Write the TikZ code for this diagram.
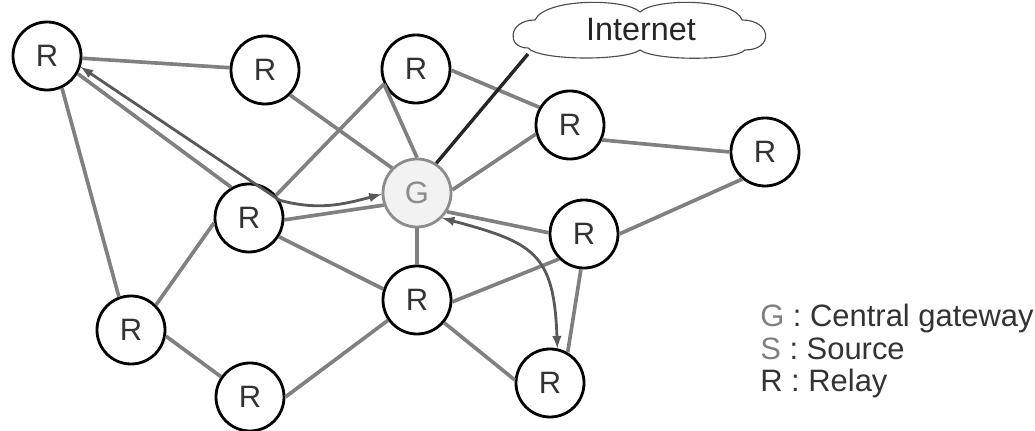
\documentclass[tikz,border=0pt]{standalone}
\usepackage{fontspec}
\setmainfont{Liberation Sans}

\begin{document}
\begin{tikzpicture}[x=0.025cm, y=0.025cm,
        relay/.style={circle, draw=black, line width=2pt, fill=white, minimum size=1.7cm, inner sep=0pt, text=black!80, font=\fontsize{22}{24}\selectfont},
        gateway/.style={relay, draw=gray!90, fill=gray!10, text=gray!90},
        link/.style={draw=gray, line width=2.6pt},
        route/.style={draw=black!65, line width=2pt, latex-latex},
        keytext/.style={anchor=base west, inner sep=0pt, text=black!80, font=\fontsize{22}{24}\selectfont}]
        \useasboundingbox (0,0) rectangle (1035,431);
        \draw[black!70, line width=0.8pt, fill=white] (528,383) .. controls (506,383) and (508,411) .. (535,411)
            .. controls (545,433) and (625,433) .. (640,419)
            .. controls (655,433) and (735,433) .. (742,411)
            .. controls (772,411) and (774,381) .. (745,381)
            .. controls (735,370) and (655,370) .. (640,381)
            .. controls (625,370) and (540,370) .. (528,383) -- cycle;
        \node[text=black!85, font=\fontsize{23}{25}\selectfont] (net) at (641,401) {Internet};
        \coordinate (netfoot) at (528,377);
        \node[relay] (r1) at (47,375) {R};
        \node[relay] (r2) at (265,361) {R};
        \node[relay] (r3) at (416,362) {R};
        \node[relay] (r4) at (570,306) {R};
        \node[relay] (r5) at (765,279) {R};
        \node[gateway] (g) at (417,238) {G};
        \node[relay] (r6) at (249,213) {R};
        \node[relay] (r7) at (584,197) {R};
        \node[relay] (r8) at (131,101) {R};
        \node[relay] (r9) at (417,131) {R};
        \node[relay] (r10) at (250,34) {R};
        \node[relay] (r11) at (550,48) {R};
        \draw[link] (r1) -- (r2);
        \draw[link] (r1.-30) -- (r6.120);
        \draw[link] (r1.-65) -- (r8.110);
        \draw[link] (r2.-45) -- (g.135);
        \draw[link] (r6.40) -- (r3.205);
        \draw[link] (r3.205) -- (g.90);
        \draw[link] (r3.-2) -- (r4.150);
        \draw[link] (r4.195) -- (g.5);
        \draw[link] (r4.-25) -- (r5.180);
        \draw[link] (r5.-130) -- (r7.0);
        \draw[link] (r6.-3) -- (g.200);
        \draw[link] (r6.188) -- (r8.45);
        \draw[link] (r6.-32) -- (r9.162);
        \draw[link] (g) -- (r9);
        \draw[link] (g.-32) -- (r7.178);
        \draw[link] (r7.225) -- (r9.-3);
        \draw[link] (r7.-95) -- (r11.60);
        \draw[link] (r8.-10) -- (r10.145);
        \draw[link] (r9.215) -- (r10.0);
        \draw[link] (r9.-40) -- (r11.175);
        \draw[black!85, line width=2.4pt] (g.57) -- (netfoot);
        \draw[route] (r1.-18) -- (r6.30) to[out=-15, in=195] (g.182);
        \draw[route] (g.-45) to[out=-15, in=92, looseness=1.4] (r11.78);
        \node[keytext] (keyg) at (760,104) {{\color{gray}G} : Central gateway};
        \node[keytext] (keys) at (760,71) {{\color{gray}S} : Source};
        \node[keytext] (keyr) at (760,39) {R : Relay};
\end{tikzpicture}
\end{document}
